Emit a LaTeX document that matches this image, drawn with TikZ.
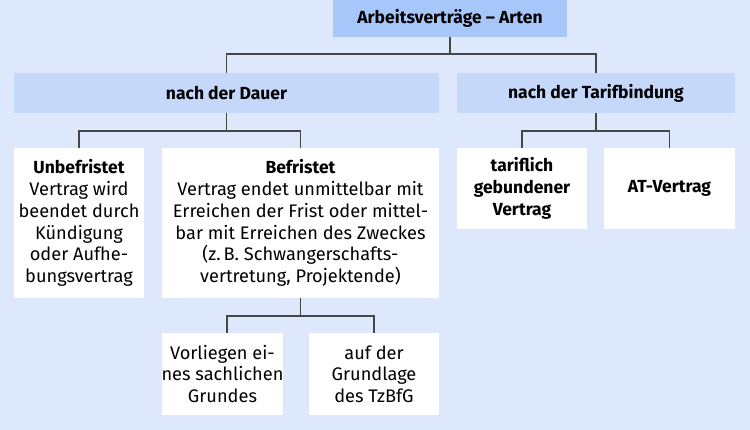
\documentclass[tikz,border=0pt]{standalone}
\usepackage{fontspec}
\setmainfont{Fira Sans}
\usetikzlibrary{positioning}
\definecolor{bg}{RGB}{221,232,252}
\definecolor{topc}{RGB}{167,198,250}
\definecolor{midc}{RGB}{197,216,250}
\definecolor{linec}{RGB}{70,70,70}
\newcommand{\regfont}{\fontsize{18.2}{21.7}\selectfont}
\newcommand{\boldfont}{\fontsize{17.5}{21.7}\selectfont\bfseries}
\begin{document}
\begin{tikzpicture}[x=1pt,y=-1pt,
  every node/.style={inner sep=0pt,outer sep=0pt,font=\regfont,align=center},
  topbox/.style={fill=topc,font=\boldfont},
  midbox/.style={fill=midc,font=\boldfont},
  leaf/.style={fill=white},
  conn/.style={draw=linec,line width=1.3pt}]
\fill[bg] (0,0) rectangle (750,430);
\useasboundingbox (0,0) rectangle (750,430);
% boxes
\node[topbox,minimum width=234pt,minimum height=37pt] (top) at (450,18.5) {Arbeitsverträge – Arten};
\node[midbox,minimum width=425pt,minimum height=40pt] (dauer) at (226.5,93) {nach der Dauer};
\node[midbox,minimum width=278pt,minimum height=40pt] (tarif) at (596,93) {nach der Tarifbindung};
\node[leaf,minimum width=130pt,minimum height=150pt] (unbef) at (79,223) {{\boldfont Unbefristet}\\Vertrag wird\\beendet durch\\Kündigung\\oder Aufhe-\\bungsvertrag};
\node[leaf,minimum width=277pt,minimum height=150pt] (bef) at (300.5,223) {{\boldfont Befristet}\\Vertrag endet unmittelbar mit\\Erreichen der Frist oder mittel-\\bar mit Erreichen des Zweckes\\(z.\,B. Schwangerschafts-\\vertretung, Projektende)};
\node[leaf,minimum width=130pt,minimum height=81pt,font=\boldfont] (tarifl) at (522,188.5) {tariflich\\gebundener\\Vertrag};
\node[leaf,minimum width=131pt,minimum height=81pt,font=\boldfont] (at) at (669.5,188.5) {AT-Vertrag};
\node[leaf,minimum width=121pt,minimum height=82pt] (vorl) at (222.5,374) {Vorliegen ei-\\nes sachlichen\\Grundes};
\node[leaf,minimum width=130pt,minimum height=82pt] (tzbfg) at (374,374) {auf der\\Grundlage\\des TzBfG};
% connectors
\draw[conn] (top.south) -- ++(0,17) -| (dauer.north);
\draw[conn] (top.south) -- ++(0,17) -| (tarif.north);
\draw[conn] (dauer.south) -- ++(0,18) -| (unbef.north);
\draw[conn] (dauer.south) -- ++(0,18) -| (bef.north);
\draw[conn] (tarif.south) -- ++(0,18) -| (tarifl.north);
\draw[conn] (tarif.south) -- ++(0,18) -| (at.north);
\draw[conn] (bef.south) -- ++(0,18) -| ([xshift=4.5pt]vorl.north);
\draw[conn] (bef.south) -- ++(0,18) -| (tzbfg.north);
\end{tikzpicture}
\end{document}
